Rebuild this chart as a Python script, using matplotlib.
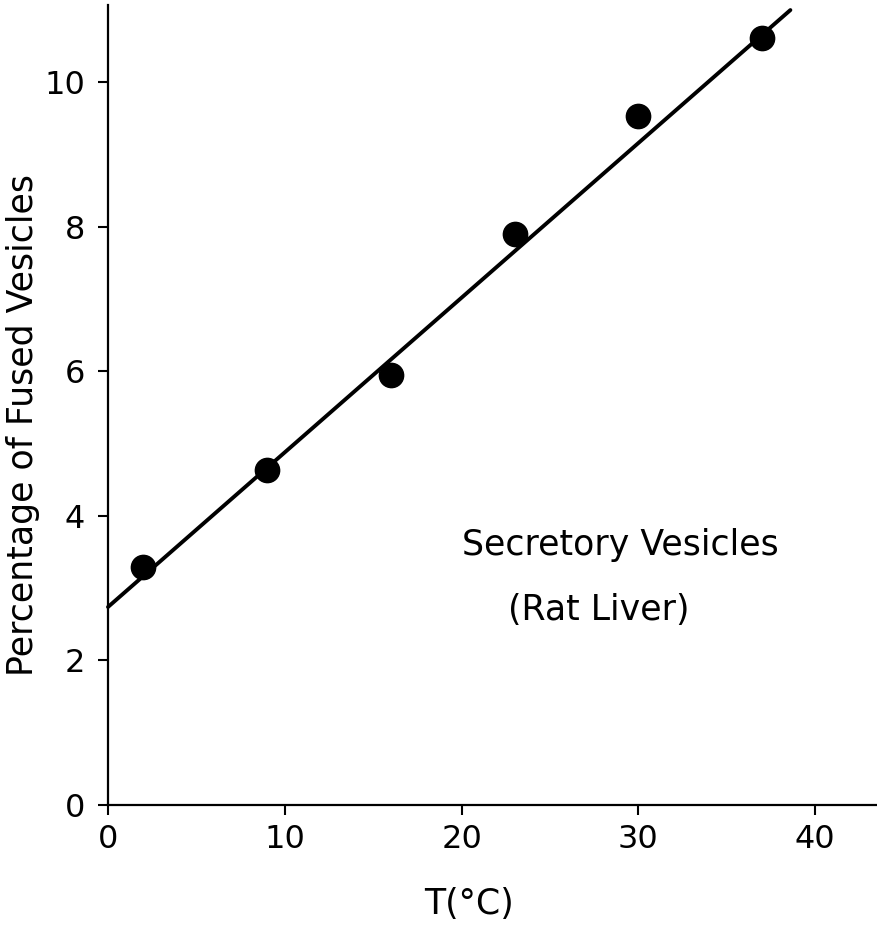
import matplotlib
matplotlib.use("Agg")
import matplotlib.pyplot as plt

# data
temps = [2, 9, 16, 23, 30, 37]
fused_pct = [3.3, 4.63, 5.95, 7.9, 9.53, 10.62]
fit_x = [0, 38.6]
fit_y = [2.74, 11.0]
x_ticks = [0, 10, 20, 30, 40]
y_ticks = [0, 2, 4, 6, 8, 10]

plt.rcParams["font.family"] = ["DejaVu Sans"]

fig = plt.figure(figsize=(8.77, 9.26), dpi=100)
axis = fig.add_axes([108 / 877, 121 / 926, 769 / 877, 800 / 926])

axis.plot(fit_x, fit_y, color="black", lw=2.8, solid_capstyle="round", clip_on=False, zorder=2)
axis.plot(temps, fused_pct, "o", color="black", ms=17.5, clip_on=False, zorder=3)

axis.set_xlim(0, 43.5)
axis.set_ylim(0, 11.07)
axis.set_xticks(x_ticks)
axis.set_yticks(y_ticks)
axis.spines["top"].set_visible(False)
axis.spines["right"].set_visible(False)
for side in ("left", "bottom"):
    axis.spines[side].set_linewidth(1.6)
axis.tick_params(direction="out", length=7.5, width=1.5, labelsize=23)
axis.tick_params(axis="x", pad=6)
axis.tick_params(axis="y", pad=9)

axis.set_xlabel("T(°C)", fontsize=25)
axis.xaxis.set_label_coords(0.47, -0.103)
axis.set_ylabel("Percentage of Fused Vesicles", fontsize=25)
axis.yaxis.set_label_coords(-0.088, 0.475)

axis.text(20.0, 3.46, "Secretory Vesicles", fontsize=25, va="baseline")
axis.text(22.6, 2.56, "(Rat Liver)", fontsize=25, va="baseline")

fig.savefig("out.png", dpi=100)
plt.close(fig)
